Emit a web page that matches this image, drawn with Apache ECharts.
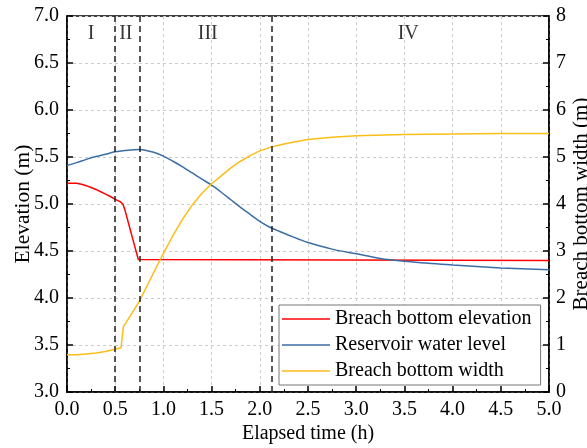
<!DOCTYPE html>
<html>
<head>
<meta charset="utf-8">
<script src="https://cdn.jsdelivr.net/npm/echarts@6/dist/echarts.min.js"></script>
<style>
  html, body { margin: 0; padding: 0; background: #fff; }
  #main { width: 587px; height: 448px; }
</style>
</head>
<body>
<div id="main"></div>
<script>
        // breach bottom elevation (m)
        var redTime = [0, 0.1, 0.15, 0.2, 0.25, 0.3, 0.35, 0.4, 0.45, 0.5, 0.55, 0.58, 0.6, 0.65, 0.7, 0.74, 0.75, 5.0];
        var redElev = [5.22, 5.22, 5.21, 5.195, 5.175, 5.155, 5.13, 5.105, 5.08, 5.05, 5.025, 5.0, 4.94, 4.75, 4.56, 4.41, 4.4, 4.4];

        // reservoir water level (m)
        var blueTime = [0, 0.1, 0.2, 0.3, 0.4, 0.5, 0.6, 0.7, 0.75, 0.8, 0.9, 1.0, 1.1, 1.2, 1.3, 1.4, 1.5, 1.6, 1.7, 1.8, 1.9, 2.0, 2.1, 2.2, 2.3, 2.4, 2.5, 2.75, 3.0, 3.25, 3.5, 3.75, 4.0, 4.5, 5.0];
        var blueLevel = [5.41, 5.44, 5.475, 5.505, 5.53, 5.555, 5.57, 5.578, 5.58, 5.575, 5.55, 5.51, 5.455, 5.395, 5.33, 5.265, 5.2, 5.125, 5.045, 4.965, 4.89, 4.815, 4.755, 4.71, 4.668, 4.628, 4.59, 4.52, 4.47, 4.42, 4.39, 4.37, 4.35, 4.32, 4.30];

        // breach bottom width (m), right axis
        var yellowTime = [0, 0.1, 0.2, 0.3, 0.4, 0.5, 0.56, 0.585, 0.65, 0.75, 0.85, 1.0, 1.1, 1.2, 1.3, 1.4, 1.5, 1.6, 1.7, 1.8, 1.9, 2.0, 2.13, 2.3, 2.5, 2.75, 3.0, 3.5, 4.0, 4.5, 5.0];
        var yellowWidth = [0.79, 0.79, 0.81, 0.83, 0.86, 0.91, 0.94, 1.39, 1.6, 1.93, 2.34, 2.95, 3.33, 3.68, 3.98, 4.23, 4.43, 4.6, 4.77, 4.91, 5.03, 5.13, 5.22, 5.30, 5.37, 5.42, 5.45, 5.48, 5.49, 5.5, 5.5];

        // stage boundaries and labels
        var stageLines = [0.5, 0.75, 2.12];
        var stageNames = ['I', 'II', 'III', 'IV'];
        var stageNameX = [0.25, 0.61, 1.46, 3.54];
        var stageNameY = 6.81;

        var seriesNames = ['Breach bottom elevation', 'Reservoir water level', 'Breach bottom width'];

        function pairs(xs, ys) {
            var out = [];
            for (var i = 0; i < xs.length; i++) out.push([xs[i], ys[i]]);
            return out;
        }

        var font = 'Liberation Serif';
        var myChart = echarts.init(document.getElementById('main'));

        var option = {
            animation: false,
            textStyle: { fontFamily: font, color: '#000' },
            grid: {
                left: 67, right: 38, top: 16, bottom: 56,
                outerBoundsMode: 'none',
                show: true, borderColor: '#000', borderWidth: 1.5
            },
            legend: {
                data: seriesNames,
                orient: 'vertical',
                left: 279, top: 305,
                padding: [4, 9, 4, 3],
                icon: 'rect',
                itemWidth: 48, itemHeight: 1.5, itemGap: 6,
                backgroundColor: '#fff',
                borderColor: '#777', borderWidth: 1,
                textStyle: { fontFamily: font, fontSize: 20, color: '#000' }
            },
            xAxis: {
                type: 'value', min: 0, max: 5, interval: 0.5,
                name: 'Elapsed time (h)', nameLocation: 'middle', nameGap: 32,
                nameMoveOverlap: false,
                nameTextStyle: { fontFamily: font, fontSize: 20, color: '#000' },
                axisLine: { lineStyle: { color: '#000', width: 1.5 } },
                axisTick: { inside: true, length: 6, lineStyle: { color: '#000', width: 1.5 } },
                minorTick: { show: true, splitNumber: 2, length: 3, lineStyle: { color: '#000', width: 1 } },
                axisLabel: { fontFamily: font, fontSize: 20, color: '#000', margin: 8,
                    formatter: function (v) { return v.toFixed(1); } },
                splitLine: { show: true, lineStyle: { color: '#ccc', type: [3, 3], width: 1 } }
            },
            yAxis: [{
                type: 'value', min: 3, max: 7, interval: 0.5,
                name: 'Elevation (m)', nameLocation: 'middle', nameGap: 33, nameRotate: 90,
                nameMoveOverlap: false,
                nameTextStyle: { fontFamily: font, fontSize: 21.5, color: '#000' },
                axisLine: { show: true, lineStyle: { color: '#000', width: 1.5 } },
                axisTick: { show: true, inside: true, length: 6, lineStyle: { color: '#000', width: 1.5 } },
                minorTick: { show: true, splitNumber: 2, length: 3, lineStyle: { color: '#000', width: 1 } },
                axisLabel: { fontFamily: font, fontSize: 20, color: '#000', margin: 8,
                    formatter: function (v) { return v.toFixed(1); } },
                splitLine: { show: true, lineStyle: { color: '#ccc', type: [3, 3], width: 1 } }
            }, {
                type: 'value', min: 0, max: 8, interval: 1, position: 'right',
                name: 'Breach bottom width (m)', nameLocation: 'middle', nameGap: 22, nameRotate: 90,
                nameMoveOverlap: false,
                nameTextStyle: { fontFamily: font, fontSize: 21, color: '#000' },
                axisLine: { show: true, lineStyle: { color: '#000', width: 1.5 } },
                axisTick: { show: true, inside: true, length: 6, lineStyle: { color: '#000', width: 1.5 } },
                minorTick: { show: true, splitNumber: 2, length: 3, lineStyle: { color: '#000', width: 1 } },
                axisLabel: { fontFamily: font, fontSize: 20, color: '#000', margin: 7 },
                splitLine: { show: false }
            }],
            series: [{
                name: seriesNames[0],
                type: 'line',
                symbol: 'none',
                color: '#ff0000',
                lineStyle: { width: 1.5, color: '#ff0000' },
                data: pairs(redTime, redElev),
                markLine: {
                    silent: true,
                    symbol: ['none', 'none'],
                    label: { show: false },
                    lineStyle: { color: '#222', type: [6, 4], width: 1.5 },
                    data: stageLines.map(function (x) { return { xAxis: x }; })
                }
            }, {
                name: seriesNames[1],
                type: 'line',
                symbol: 'none',
                smooth: 0.3,
                color: '#3b6ea5',
                lineStyle: { width: 1.5, color: '#3b6ea5' },
                data: pairs(blueTime, blueLevel)
            }, {
                name: seriesNames[2],
                type: 'line',
                yAxisIndex: 1,
                symbol: 'none',
                color: '#fbbd18',
                lineStyle: { width: 1.5, color: '#fbbd18' },
                data: pairs(yellowTime, yellowWidth)
            }, {
                name: 'stages',
                type: 'scatter',
                symbolSize: 1,
                itemStyle: { color: 'rgba(0,0,0,0)' },
                silent: true,
                label: {
                    show: true, position: 'inside',
                    fontFamily: font, fontSize: 20, color: '#000',
                    textBorderWidth: 0,
                    formatter: function (p) { return p.name; }
                },
                data: stageNames.map(function (n, i) { return { name: n, value: [stageNameX[i], stageNameY] }; })
            }]
        };

        myChart.setOption(option);
</script>
</body>
</html>
